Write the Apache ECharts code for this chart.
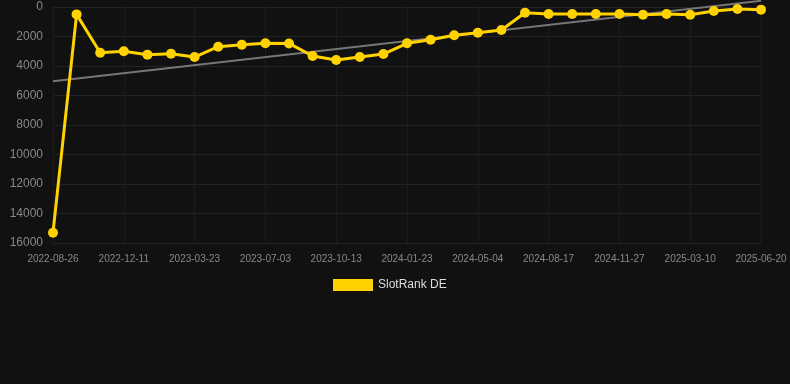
<!DOCTYPE html>
<html>
<head>
<meta charset="utf-8">
<script src="https://cdn.jsdelivr.net/npm/echarts@6/dist/echarts.min.js"></script>
<style>
html,body{margin:0;padding:0;background:#111111;}
#c{width:790px;height:384px;}
</style>
</head>
<body>
<div id="c"></div>
<script>
const categories = [
  '2022-08-26','2022-10-01','2022-11-05','2022-12-11','2023-01-14','2023-02-17',
  '2023-03-23','2023-04-26','2023-05-30','2023-07-03','2023-08-06','2023-09-09',
  '2023-10-13','2023-11-16','2023-12-20','2024-01-23','2024-02-26','2024-03-31',
  '2024-05-04','2024-06-08','2024-07-13','2024-08-17','2024-09-20','2024-10-24',
  '2024-11-27','2024-12-31','2025-02-04','2025-03-10','2025-04-13','2025-05-17',
  '2025-06-20'
];
const rankDE = [
  15300, 500, 3100, 3000, 3230, 3170,
  3390, 2690, 2560, 2460, 2470, 3320,
  3590, 3390, 3190, 2460, 2220, 1920,
  1740, 1560, 390, 470, 470, 470,
  470, 520, 470, 520, 270, 140,
  180
];
const trendEnds = [5030, -420];
const yTicks = { min: 0, max: 16000, interval: 2000 };

const trendData = categories.map((c, i) =>
  i === 0 ? trendEnds[0] : (i === categories.length - 1 ? trendEnds[1] : null));

const chart = echarts.init(document.getElementById('c'), null, { renderer: 'canvas' });
chart.setOption({
  backgroundColor: '#111111',
  animation: false,
  textStyle: { fontFamily: 'Liberation Sans, Arial, sans-serif' },
  grid: { left: 53, right: 29, top: 7, bottom: 141, containLabel: false },
  legend: {
    data: ['SlotRank DE'],
    top: 274,
    left: 328,
    itemWidth: 40,
    itemHeight: 12,
    itemGap: 10,
    icon: 'rect',
    textStyle: { color: '#dddddd', fontSize: 12 }
  },
  xAxis: {
    type: 'category',
    data: categories,
    boundaryGap: false,
    axisLine: { show: false },
    axisTick: { show: false },
    axisLabel: { interval: 2, color: '#888888', fontSize: 10, margin: 11 },
    splitLine: { show: true, interval: 2, lineStyle: { color: '#1c1c1c', width: 1 } }
  },
  yAxis: {
    type: 'value',
    inverse: true,
    min: yTicks.min,
    max: yTicks.max,
    interval: yTicks.interval,
    axisLine: { show: false },
    axisTick: { show: false },
    axisLabel: { color: '#888888', fontSize: 12, margin: 10, formatter: v => String(v) },
    splitLine: { show: true, lineStyle: { color: '#222222', width: 1 } }
  },
  series: [
    {
      name: 'Trend',
      type: 'line',
      data: trendData,
      connectNulls: true,
      clip: false,
      showSymbol: false,
      symbol: 'none',
      lineStyle: { color: '#777777', width: 2 },
      z: 1
    },
    {
      name: 'SlotRank DE',
      type: 'line',
      data: rankDE,
      symbol: 'circle',
      symbolSize: 10,
      itemStyle: { color: '#FFD200' },
      lineStyle: { color: '#FFD200', width: 3 },
      z: 2
    }
  ]
});
</script>
</body>
</html>
